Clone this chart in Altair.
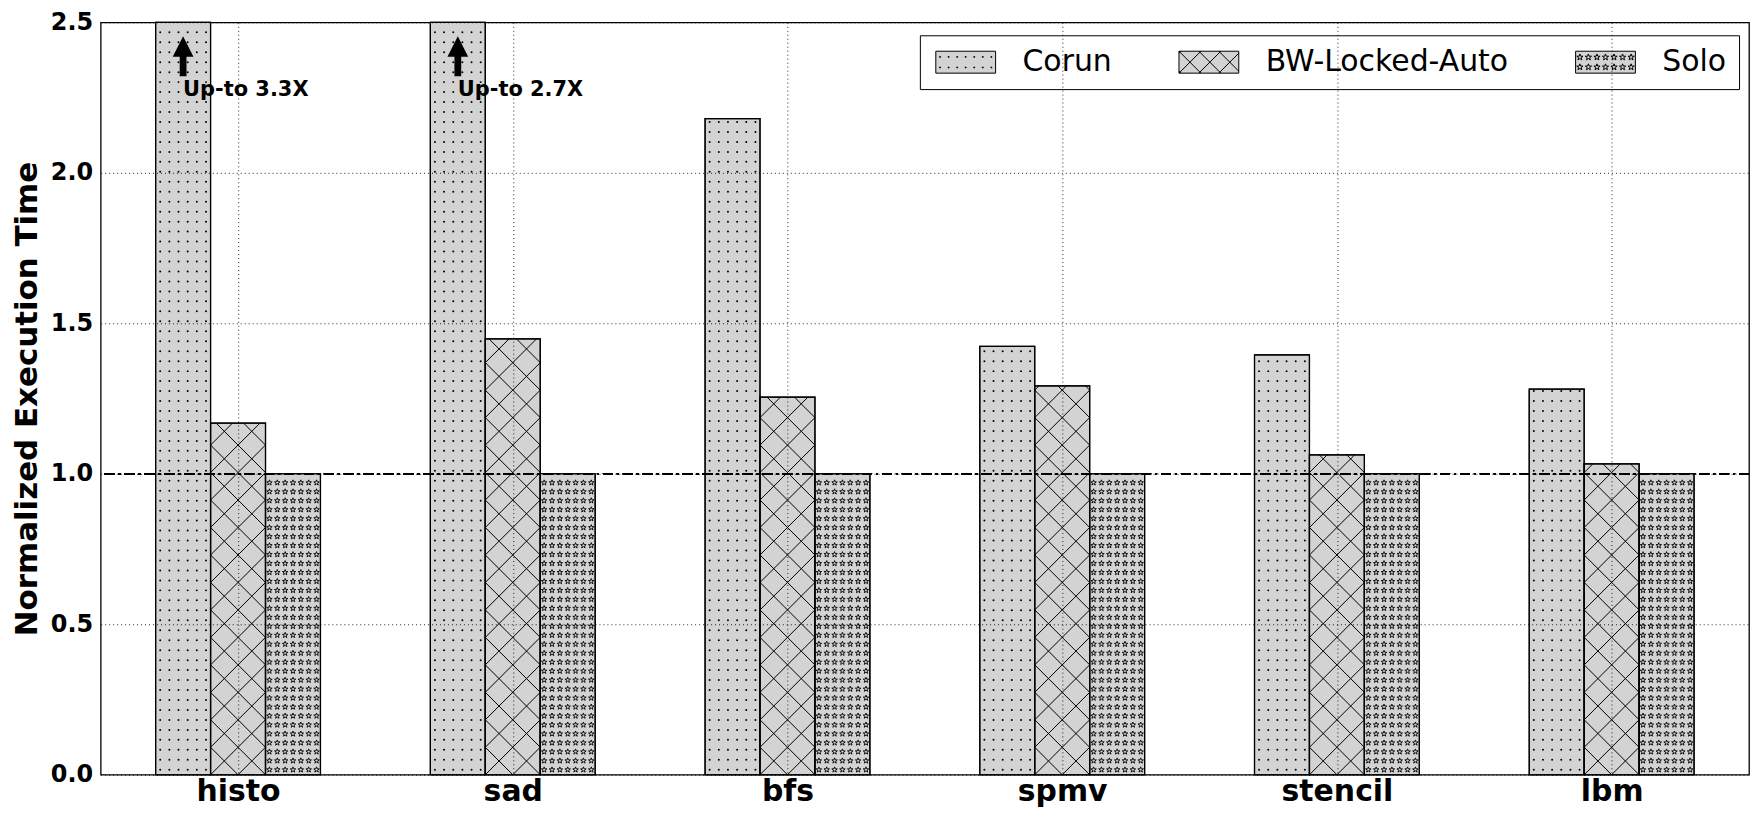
import math
import altair as alt
import pandas as pd

# ---------------- data ----------------
categories = ["histo", "sad", "bfs", "spmv", "stencil", "lbm"]
series = ["Corun", "BW-Locked-Auto", "Solo"]
corun = [3.3, 2.7, 2.18, 1.423, 1.395, 1.281]
bw_locked = [1.168, 1.448, 1.255, 1.292, 1.063, 1.033]
solo = [1.0, 1.0, 1.0, 1.0, 1.0, 1.0]
y_ticks = [0.0, 0.5, 1.0, 1.5, 2.0, 2.5]
baseline_value = 1.0
y_max = 2.5

# ---------------- geometry ----------------
W = 1654
H = 755
PX = W / 6.0           # pixels per x unit (one category step)
PY = H / y_max         # pixels per y unit
BAR_PX = 0.2 * PX      # bar width in px
FONT = "DejaVu Sans"
GRAY = "#d3d3d3"

rows = []
for i, c in enumerate(categories):
    for s, vals in enumerate([corun, bw_locked, solo]):
        rows.append({"idx": i, "cat": c, "s": s, "series": series[s], "value": vals[i]})
df = pd.DataFrame(rows)


def star(cx, cy, r, inner=0.4):
    pts = []
    for k in range(10):
        a = -math.pi / 2 + k * math.pi / 5
        rr = r if k % 2 == 0 else r * inner
        pts.append((cx + rr * math.cos(a), cy + rr * math.sin(a)))
    return "M" + "L".join(f"{x:.3f},{y:.3f}" for x, y in pts) + "Z"


STAR = star(0, 0, 1.0)

# legend icons: nominal symbol 22 px (scale 11 px / unit), drawn 60 x 22 px, left-aligned
U = 11.0
X0L, X1L = -1.0, -1.0 + 60 / U
RECT = f"M{X0L:.3f},-1L{X1L:.3f},-1L{X1L:.3f},1L{X0L:.3f},1Z"


def lx(j, n):
    return X0L + (j + 0.5) * (X1L - X0L) / n


def icon_dots():
    p = RECT
    for j in range(7):
        x = lx(j, 7)
        for y in (-0.48, 0.48):
            p += (f"M{x-0.04:.3f},{y-0.04:.3f}L{x+0.04:.3f},{y-0.04:.3f}"
                  f"L{x+0.04:.3f},{y+0.04:.3f}L{x-0.04:.3f},{y+0.04:.3f}Z")
    return p


def icon_cross():
    p = RECT
    d = 20 / U
    for k in range(-6, 10):
        c = k * d
        xs, xe = max(X0L, -1 - c), min(X1L, 1 - c)
        if xe - xs > 0.02:
            p += f"M{xs:.3f},{xs + c:.3f}L{xe:.3f},{xe + c:.3f}"
        xs, xe = max(X0L, c - 1), min(X1L, c + 1)
        if xe - xs > 0.02:
            p += f"M{xs:.3f},{c - xs:.3f}L{xe:.3f},{c - xe:.3f}"
    return p


def icon_stars():
    p = RECT
    for j in range(7):
        x = lx(j, 7)
        for y in (-0.45, 0.45):
            p += star(x, y, 0.3)
    return p


ARROW = "M0,-1L0.52,0.03L0.17,0.03L0.17,1L-0.17,1L-0.17,0.03L-0.52,0.03Z"

x_scale = alt.Scale(domain=[0, 6], nice=False, zero=False)
y_scale = alt.Scale(domain=[0, y_max], nice=False, zero=True)

x_axis = alt.Axis(
    values=[i + 0.5 for i in range(len(categories))],
    labelExpr=f"{categories!r}[floor(datum.value)]",
    title=None, grid=True, gridColor="black", gridDash=[1, 3], gridWidth=1, gridOpacity=0.85,
    ticks=False, domain=False, labelFont=FONT, labelFontWeight="bold", labelFontSize=30,
    labelColor="black", labelPadding=2, labelFlush=False, labelOverlap=False, zindex=1,
)
y_axis = alt.Axis(
    values=y_ticks, format=".1f", title="Normalized Execution Time",
    titleFont=FONT, titleFontSize=31, titleFontWeight="bold", titleColor="black", titlePadding=7,
    grid=True, gridColor="black", gridDash=[1, 3], gridWidth=1, gridOpacity=0.85,
    ticks=False, domain=False, labelFont=FONT, labelFontWeight="bold", labelFontSize=24,
    labelColor="black", labelPadding=8, labelFlush=False, labelOverlap=False, zindex=1,
)


def X(field, **kw):
    return alt.X(field, scale=x_scale, axis=x_axis, title=None, **kw)


def Y(field=None, **kw):
    if field is None:
        return alt.Y(scale=y_scale, axis=y_axis, title="Normalized Execution Time", **kw)
    return alt.Y(field, scale=y_scale, axis=y_axis, title="Normalized Execution Time", **kw)


base = alt.Chart(df).transform_calculate(
    x0="datum.idx + 0.2 + 0.2 * datum.s"
).transform_calculate(
    x1="datum.x0 + 0.2"
).transform_calculate(
    vc=f"min(datum.value, {y_max})"
).transform_calculate(
    zero="0"
)

bars = base.mark_rect(fill=GRAY, stroke="black", strokeWidth=1.2).encode(
    x=X("x0:Q"), x2="x1:Q", y=Y("vc:Q"), y2="zero:Q",
)

# Corun: dots
dots = base.transform_filter("datum.s == 0").transform_calculate(
    ys=f"sequence({5 / PY}, datum.vc, {10 / PY})"
).transform_flatten(["ys"]).transform_calculate(
    cs="sequence(0, 6)"
).transform_flatten(["cs"]).transform_calculate(
    px="datum.x0 + (datum.cs + 0.5) * 0.2 / 6"
).mark_circle(size=4, color="black", opacity=1).encode(
    x=X("px:Q"), y=Y("ys:Q"),
)

# Solo: stars
stars = base.transform_filter("datum.s == 2").transform_calculate(
    ys=f"sequence({5 / PY}, datum.vc - {3 / PY}, {9 / PY})"
).transform_flatten(["ys"]).transform_calculate(
    cs="sequence(0, 7)"
).transform_flatten(["cs"]).transform_calculate(
    px="datum.x0 + (datum.cs + 0.5) * 0.2 / 7"
).mark_point(shape=STAR, size=34, filled=False, stroke="black", strokeWidth=0.9, opacity=1).encode(
    x=X("px:Q"), y=Y("ys:Q"),
)

# BW-Locked-Auto: cross hatch lines
D = BAR_PX / 2
cross = base.transform_filter("datum.s == 1").transform_calculate(
    h=f"datum.vc * {PY}"
).transform_calculate(
    ks=f"sequence(-3, ceil(datum.h / {D}) + 4)"
).transform_calculate(
    fams="[0, 1]"
).transform_flatten(["ks"]).transform_flatten(["fams"]).transform_calculate(
    c=f"datum.ks * {D}"
).transform_calculate(
    xs=f"datum.fams == 0 ? max(0, -datum.c) : max(0, datum.c - datum.h)"
).transform_calculate(
    xe=f"datum.fams == 0 ? min({BAR_PX}, datum.h - datum.c) : min({BAR_PX}, datum.c)"
).transform_filter("datum.xe - datum.xs > 0.5").transform_calculate(
    ya="datum.fams == 0 ? datum.xs + datum.c : datum.c - datum.xs"
).transform_calculate(
    yb="datum.fams == 0 ? datum.xe + datum.c : datum.c - datum.xe"
).transform_calculate(
    X1=f"datum.x0 + datum.xs / {PX}"
).transform_calculate(
    X2=f"datum.x0 + datum.xe / {PX}"
).transform_calculate(
    Y1=f"datum.ya / {PY}"
).transform_calculate(
    Y2=f"datum.yb / {PY}"
).mark_rule(color="black", strokeWidth=1).encode(
    x=X("X1:Q"), x2="X2:Q", y=Y("Y1:Q"), y2="Y2:Q",
)

outlines = base.mark_rect(fillOpacity=0, stroke="black", strokeWidth=1.2).encode(
    x=X("x0:Q"), x2="x1:Q", y=Y("vc:Q"), y2="zero:Q",
)

ref_line = alt.Chart(df).mark_rule(color="black", strokeWidth=1.5, strokeDash=[10, 4, 2, 4]).encode(
    y=Y(datum=baseline_value)
)

ann = base.transform_filter(f"datum.s == 0 && datum.value > {y_max}").transform_calculate(
    cx="datum.x0 + 0.1"
).transform_calculate(
    label="'Up-to ' + format(datum.value, '.1f') + 'X'"
)
arrows = ann.mark_point(shape=ARROW, size=1600, filled=True, fill="black", strokeWidth=0,
                        opacity=1, yOffset=34).encode(
    x=X("cx:Q"), y=Y(datum=y_max),
)
ann_text = ann.mark_text(align="left", baseline="middle", dy=68, font=FONT, fontSize=21,
                         fontWeight="bold", color="black").encode(
    x=X("cx:Q"), y=Y(datum=y_max), text="label:N",
)


def make_legend():
    return alt.Legend(
        orient="none", legendX=822, legendY=13, direction="horizontal", title=None,
        labelFont=FONT, labelFontSize=30, labelColor="black", labelOffset=61, labelLimit=500,
        symbolSize=484, symbolStrokeWidth=1, symbolOpacity=1, padding=12,
        strokeColor="black", fillColor="white", columnPadding=63, cornerRadius=0,
    )


legend_layer = base.transform_filter("datum.value < 0").mark_point(
    filled=True, strokeWidth=1, size=484, opacity=1
).encode(
    x=X("x0:Q"), y=Y("vc:Q"),
    shape=alt.Shape(
        "series:N",
        scale=alt.Scale(domain=series, range=[icon_dots(), icon_cross(), icon_stars()]),
        legend=make_legend(),
    ),
    fill=alt.Fill(
        "series:N",
        scale=alt.Scale(domain=series, range=[GRAY, GRAY, GRAY]),
        legend=make_legend(),
    ),
    stroke=alt.Stroke(
        "series:N",
        scale=alt.Scale(domain=series, range=["black", "black", "black"]),
        legend=make_legend(),
    ),
)

chart = alt.layer(
    bars, dots, stars, cross, outlines, ref_line, arrows, ann_text, legend_layer
).properties(
    width=W, height=H,
    autosize=alt.AutoSizeParams(type="none"),
    padding={"left": 93, "top": 13, "right": 2, "bottom": 32},
).configure(font=FONT).configure_view(stroke="black", strokeWidth=1.3)

chart.save("out.html", embed_options={"renderer": "svg", "actions": False})
